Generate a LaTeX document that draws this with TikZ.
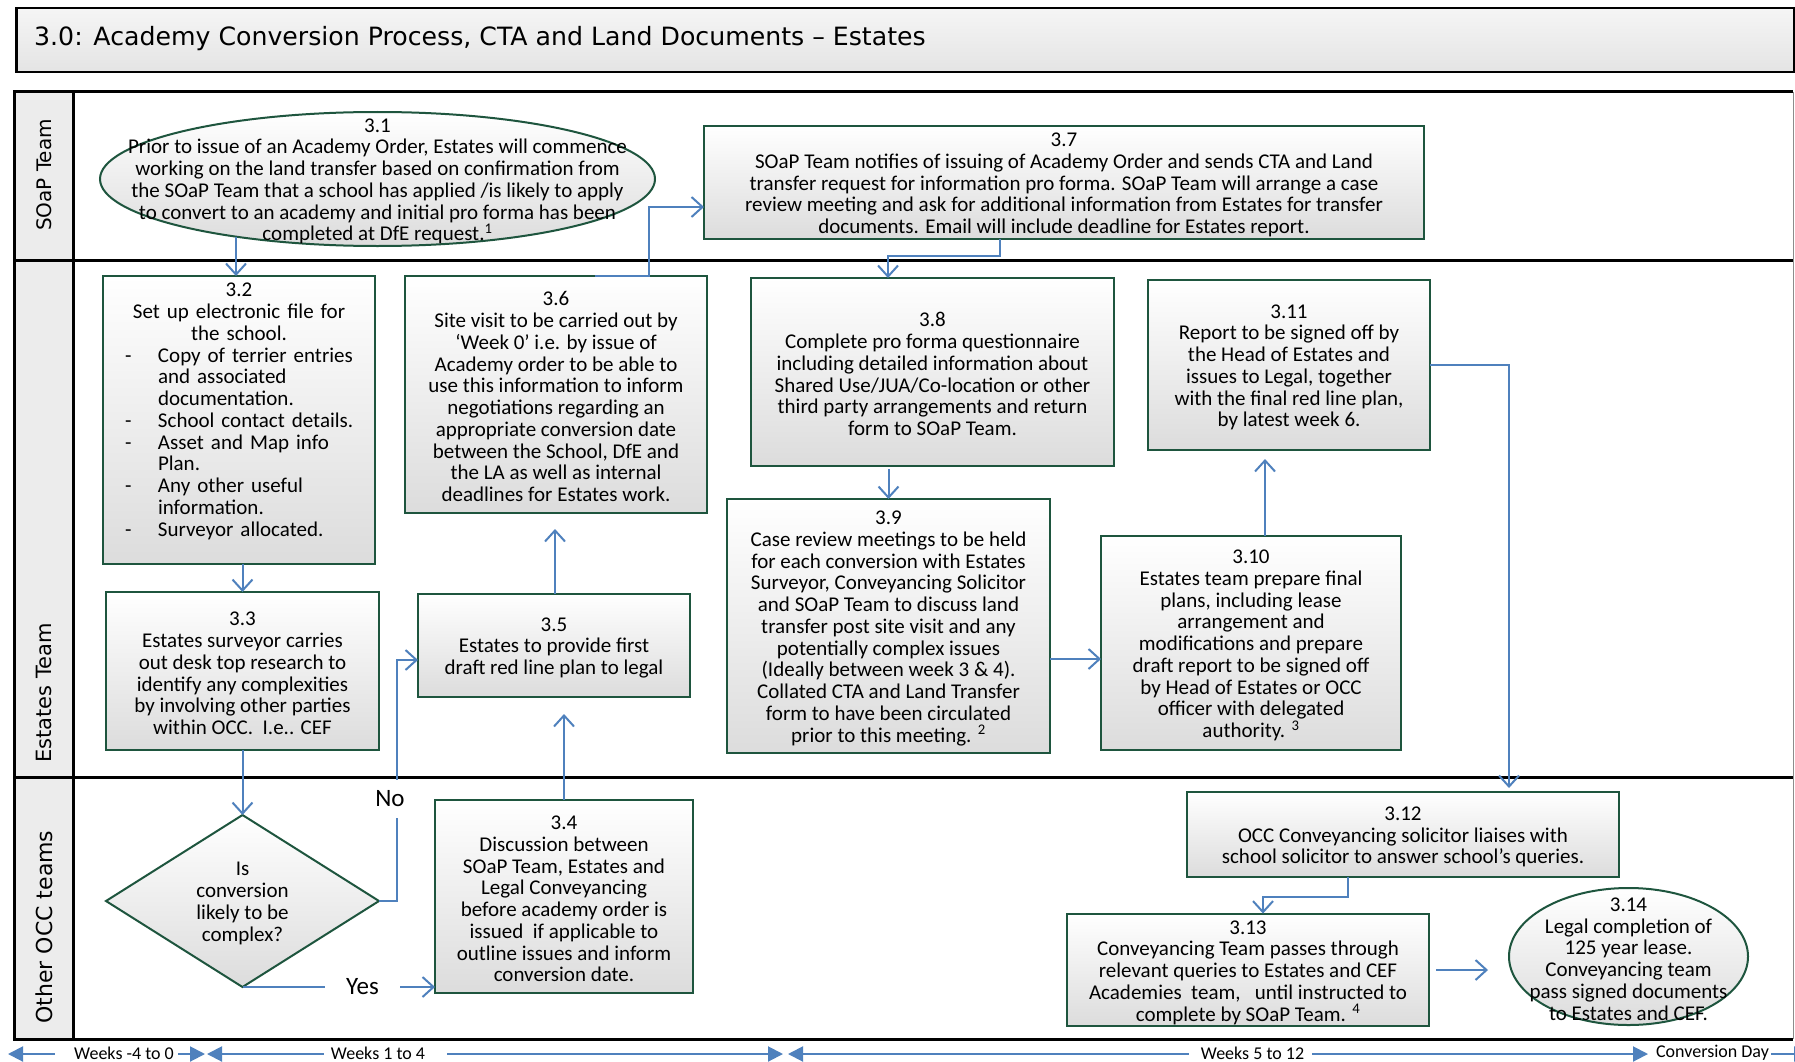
\documentclass[tikz,border=0pt]{standalone}
\usepackage{fontspec}
\setmainfont{Carlito}
\newfontfamily\headfont{DejaVu Sans}
\usetikzlibrary{arrows.meta,shapes.geometric}

\definecolor{boxgreen}{RGB}{30,85,62}
\definecolor{boxshade}{RGB}{220,220,220}
\definecolor{flowblue}{RGB}{79,129,189}
\definecolor{lanegray}{RGB}{236,236,236}
\definecolor{titletop}{RGB}{245,245,245}
\definecolor{titlebot}{RGB}{228,228,228}

% one bullet of the 3.2 checklist: dash, then hanging text
\newcommand\bulletitem[1]{\par\noindent\hangindent=49pt\hangafter=1\hspace*{16pt}\makebox[33pt][l]{-}#1\par}
% extra head room above the first line of every step text
\newcommand\fls{\rule{0pt}{18.5pt}}

\begin{document}
\begin{tikzpicture}[x=1pt,y=-1pt,
  boxfont/.style={font=\fontsize{21}{21.75}\selectfont},
  stepbox/.style={draw=boxgreen, line width=2pt, top color=white, bottom color=boxshade,
    align=center, inner sep=2pt, outer sep=0pt, boxfont},
  termshape/.style={ellipse, draw=boxgreen, line width=2pt, top color=white,
    bottom color=boxshade, inner sep=0pt, outer sep=0pt},
  termtext/.style={align=center, inner sep=0pt, boxfont},
  flow/.style={draw=flowblue, line width=2pt, -{Straight Barb[length=11pt,width=20pt]}},
  timeline/.style={draw=flowblue, line width=2pt, -{Triangle[length=15pt,width=15pt]}},
  lanehead/.style={rotate=90, inner sep=0pt, font=\headfont\fontsize{#1}{24}\selectfont},
  flowlabel/.style={fill=white, inner sep=0pt, font=\fontsize{25}{30}\selectfont},
  weeklabel/.style={inner sep=0pt, font=\fontsize{18}{22}\selectfont},
]
\useasboundingbox (0,0) rectangle (1795,1062);
\fill[white] (0,0) rectangle (1795,1062);

% ---------- title bar ----------
\node[draw=black, line width=2.5pt, top color=titletop, bottom color=titlebot,
  minimum width=1778pt, minimum height=64pt, inner sep=0pt, anchor=north west] (title) at (15,7) {};
\node[anchor=west, inner sep=0pt, font=\headfont\fontsize{25.2}{30}\selectfont] (titletext) at (34,39)
  {3.0: Academy Conversion Process, CTA and Land Documents – Estates};

% ---------- swimlanes ----------
\fill[lanegray] (14,92) rectangle (73,1039);
\draw[line width=0.8pt, draw=black!45] (1793,92) -- (1793,1039);
\draw[line width=3pt] (1793,92) -- (14,92) -- (14,1039) -- (1793,1039);
\draw[line width=3pt] (73,92) -- (73,1039);
\draw[line width=3pt] (14,260) -- (1793,260);
\draw[line width=3pt] (14,777) -- (1793,777);
\node[lanehead=20] (laneA) at (44,175) {SOaP Team};
\node[lanehead=21] (laneB) at (44,693) {Estates Team};
\node[lanehead=22] (laneC) at (44,927) {Other OCC teams};

% ---------- SOaP Team lane ----------
\node[termshape, minimum width=555pt, minimum height=134pt] (n31) at (377.5,179) {};
\node[termtext] (n31t) at (n31.center) {\fls 3.1\\Prior to issue of an Academy Order, Estates will commence\\working on the land transfer based on confirmation from\\the SOaP Team that a school has applied /is likely to apply\\to convert to an academy and initial pro forma has been\\completed at DfE request.\textsuperscript{1}};

\node[stepbox, minimum width=720pt, minimum height=111pt] (n37) at (1064,182.5)
  {\fls 3.7\\SOaP Team notifies of issuing of Academy Order and sends CTA and Land\\transfer request for information pro forma. SOaP Team will arrange a case\\review meeting and ask for additional information from Estates for transfer\\documents. Email will include deadline for Estates report.};

% ---------- Estates Team lane ----------
\node[draw=boxgreen, line width=2pt, top color=white, bottom color=boxshade, inner sep=0pt,
  outer sep=0pt, minimum width=272pt, minimum height=288pt] (n32) at (239,420) {};
\node[termtext, text width=260pt] (n32t) at (239,409) {%
  \fls 3.2\\Set up electronic file for\\the school.\par
  \raggedright
  \bulletitem{Copy of terrier entries\newline and associated\newline documentation.}
  \bulletitem{School contact details.}
  \bulletitem{Asset and Map info\newline Plan.}
  \bulletitem{Any other useful\newline information.}
  \bulletitem{Surveyor allocated.}};

\node[stepbox, minimum width=302pt, minimum height=237pt] (n36) at (556,394.5)
  {\fls 3.6\\Site visit to be carried out by\\‘Week 0’ i.e. by issue of\\Academy order to be able to\\use this information to inform\\negotiations regarding an\\appropriate conversion date\\between the School, DfE and\\the LA as well as internal\\deadlines for Estates work.};

\node[stepbox, minimum width=363pt, minimum height=188pt] (n38) at (932.5,372)
  {\fls 3.8\\Complete pro forma questionnaire\\including detailed information about\\Shared Use/JUA/Co-location or other\\third party arrangements and return\\form to SOaP Team.};

\node[stepbox, minimum width=282pt, minimum height=170pt] (n311) at (1289,365)
  {\fls 3.11\\Report to be signed off by\\the Head of Estates and\\issues to Legal, together\\with the final red line plan,\\by latest week 6.};

\node[stepbox, minimum width=273pt, minimum height=158pt] (n33) at (242.5,671)
  {\fls 3.3\\Estates surveyor carries\\out desk top research to\\identify any complexities\\by involving other parties\\within OCC.\ \ I.e.. CEF};

\node[stepbox, minimum width=272pt, minimum height=103pt] (n35) at (554,645.5)
  {\fls 3.5\\Estates to provide first\\draft red line plan to legal};

\node[stepbox, minimum width=323pt, minimum height=254pt] (n39) at (888.5,626)
  {\fls 3.9\\Case review meetings to be held\\for each conversion with Estates\\Surveyor, Conveyancing Solicitor\\and SOaP Team to discuss land\\transfer post site visit and any\\potentially complex issues\\(Ideally between week 3 \& 4).\\Collated CTA and Land Transfer\\form to have been circulated\\prior to this meeting. \textsuperscript{2}};

\node[stepbox, minimum width=300pt, minimum height=214pt] (n310) at (1251,643)
  {\fls 3.10\\Estates team prepare final\\plans, including lease\\arrangement and\\modifications and prepare\\draft report to be signed off\\by Head of Estates or OCC\\officer with delegated\\authority. \textsuperscript{3}};

% ---------- Other OCC teams lane ----------
\node[stepbox, diamond, aspect=1.587, inner sep=0pt, minimum width=273pt, minimum height=172pt] (dia) at (242.5,901)
  {\fls Is\\conversion\\likely to be\\complex?};

\node[stepbox, minimum width=258pt, minimum height=193pt] (n34) at (564,896.5)
  {\fls 3.4\\Discussion between\\SOaP Team, Estates and\\Legal Conveyancing\\before academy order is\\issued\ \ if applicable to\\outline issues and inform\\conversion date.};

\node[stepbox, minimum width=432pt, minimum height=85pt] (n312) at (1403,834.5)
  {\fls 3.12\\OCC Conveyancing solicitor liaises with\\school solicitor to answer school’s queries.};

\node[stepbox, minimum width=362pt, minimum height=110pt] (n313) at (1248,970)
  {\fls 3.13\\Conveyancing Team passes through\\relevant queries to Estates and CEF\\Academies\ \ team,\ \ \ until instructed to\\complete by SOaP Team. \textsuperscript{4}};

\node[termshape, minimum width=239pt, minimum height=137pt] (n314) at (1628.5,956.5) {};
\node[termtext] (n314t) at (n314.center)
  {\fls 3.14\\Legal completion of\\125 year lease.\\Conveyancing team\\pass signed documents\\to Estates and CEF.};

% ---------- connectors ----------
\draw[flow] (n31.202.15 -| 236,0) -- (n32.north -| 236,0);
\draw[flow] (n32.south -| n33.north) -- (n33.north);
\draw[flow] (n33.south) -- (dia.north);
\draw[flow] (dia.east) -| (397,660) -- (n35.west |- 0,660);
\draw[flow] (dia.south) -- (dia.south -| n34.west);
\draw[flow, shorten >=17pt] (n34.north) -- (n34.north |- n35.south);
\draw[flow, shorten >=16pt] (n35.north -| 555,0) -- (n36.south -| 555,0);
\draw[flow] (n36.north -| 595,0) -| (649,207) -- (n37.west |- 0,207);
\draw[flow] (n37.south -| 1000,0) |- (888,256) -- (n38.north -| 888,0);
\draw[flow, shorten <=3pt] (n39.north |- n38.south) -- (n39.north);
\draw[flow] (n39.east |- 0,659) -- (n310.west |- 0,659);
\draw[flow, shorten >=9pt] (n310.north -| 1265,0) -- (n311.south -| 1265,0);
\draw[flow, shorten >=4pt] (n311.east |- 0,365) -| (n312.north -| 1509,0);
\draw[flow] (n312.south -| 1348,0) |- (1263,897) -- (n313.north -| 1263,0);
\draw[flow, shorten <=7pt, shorten >=21pt] (n313.east |- 0,970) -- (n314.west |- 0,970);

\node[flowlabel, minimum width=34pt, minimum height=38pt] (nolab) at (390,799) {No};
\node[flowlabel, minimum width=75pt, minimum height=26pt] (yeslab) at (362.5,987) {Yes};

% ---------- timeline ----------
\node[weeklabel] (wk1) at (124,1053) {Weeks -4 to 0};
\node[weeklabel] (wk2) at (378,1053) {Weeks 1 to 4};
\node[weeklabel] (wk3) at (1252.5,1053) {Weeks 5 to 12};
\node[weeklabel] (wk4) at (1712.5,1053) {Conversion Day};
\coordinate (tA) at (8,1054);
\coordinate (tB) at (205,1054);
\coordinate (tC) at (207,1054);
\coordinate (tD) at (783,1054);
\coordinate (tE) at (788,1054);
\coordinate (tF) at (1648,1054);
\coordinate (tG) at (1809,1054);
\draw[timeline] (wk1.west |- tA) ++(-19,0) -- (tA);
\draw[timeline] (wk1.east |- tA) ++(4,0) -- (tB);
\draw[timeline] (wk2.west |- tA) ++(-7,0) -- (tC);
\draw[timeline] (wk2.east |- tA) ++(22,0) -- (tD);
\draw[timeline] (wk3.west |- tA) ++(-12,0) -- (tE);
\draw[timeline] (wk3.east |- tA) ++(8,0) -- (tF);
\draw[timeline] (wk4.east |- tA) ++(2,0) -- (tG);
\end{tikzpicture}
\end{document}
